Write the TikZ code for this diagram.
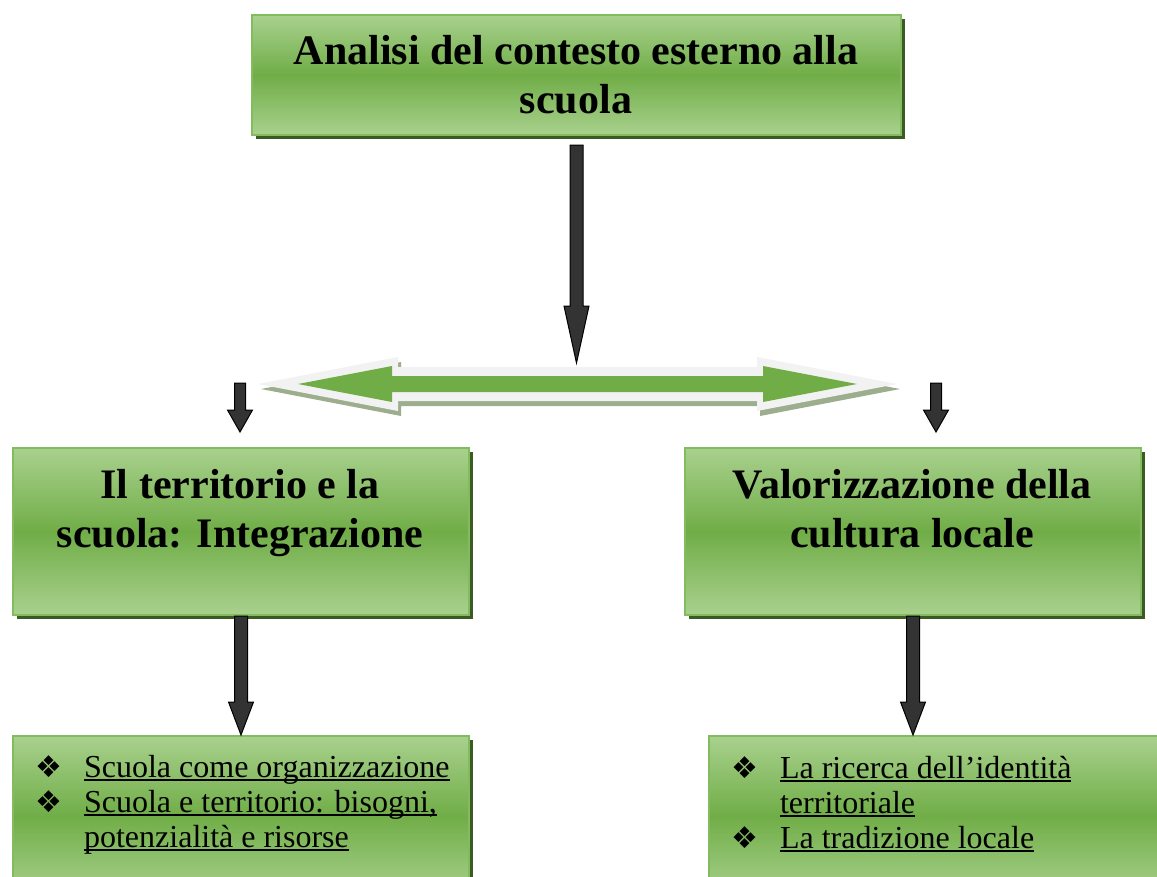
\documentclass[tikz,border=0pt]{standalone}
\usepackage{fontspec}
\setmainfont{Liberation Serif}
\newfontfamily\dejavu{DejaVu Sans}
\usetikzlibrary{calc,shadows}
\definecolor{lightg}{HTML}{A9D18E}
\definecolor{midg}{HTML}{70AD47}
\definecolor{edgeg}{HTML}{82BC5E}
\definecolor{shadg}{HTML}{3B5A24}
\definecolor{arrowdark}{HTML}{333333}
\definecolor{arrowpale}{HTML}{F2F2F2}
\definecolor{arrowshad}{HTML}{9DAE8E}
\newcommand\myul[1]{\setbox0\hbox{#1}\rlap{\rule[-4pt]{\wd0}{1.6pt}}\box0}
\newcommand\bul{{\dejavu\fontsize{30}{30}\selectfont ❖}}
\newcommand\blkarrow[5]{\path[blkarrowstyle] let \p1=(#1), \p2=(#2) in
  (\x1-#3,\y1) -- (\x1-#3,\y2+#5) -- (\x1-#4,\y2+#5) -- (\x1,\y2) --
  (\x1+#4,\y2+#5) -- (\x1+#3,\y2+#5) -- (\x1+#3,\y1) -- cycle;}
\tikzset{
  greenbox/.style={draw=edgeg, line width=2pt, top color=lightg, bottom color=lightg,
    middle color=midg, inner sep=0pt, anchor=north west,
    drop shadow={shadow xshift=4pt, shadow yshift=-4pt, fill=shadg, opacity=1}},
  headtext/.style={font=\fontsize{42}{49}\selectfont\bfseries, align=center, inner sep=0pt, anchor=base},
  listtext/.style={font=\fontsize{32}{35}\selectfont, inner sep=0pt, anchor=base west},
  blkarrowstyle/.style={draw=black, line width=1pt, fill=arrowdark, line join=miter},
}
\begin{document}
\begin{tikzpicture}[x=1pt,y=-1pt]
\clip (0,0) rectangle (1157,876);
\fill[white] (0,0) rectangle (1157,876);

% boxes
\node[greenbox, minimum width=649pt, minimum height=120pt] (top) at (251,14) {};
\node[greenbox, minimum width=456pt, minimum height=167pt] (mid1) at (12,447) {};
\node[greenbox, minimum width=456pt, minimum height=167pt] (mid2) at (684,447) {};
\node[greenbox, minimum width=456pt, minimum height=160pt] (bot1) at (12,735) {};
\node[greenbox, minimum width=470pt, minimum height=160pt] (bot2) at (708,735) {};

% double arrow
\fill[arrowshad] (261,389) -- (401,362) -- (401,372) -- (760,372) -- (760,362) -- (900,389)
  -- (760,416) -- (760,406) -- (401,406) -- (401,416) -- cycle;
\fill[arrowpale] (258,384) -- (398,357) -- (398,367) -- (757,367) -- (757,357) -- (897,384)
  -- (757,411) -- (757,401) -- (398,401) -- (398,411) -- cycle;
\fill[midg] (298,384) -- (392,366) -- (392,376) -- (763,376) -- (763,366) -- (857,384)
  -- (763,402) -- (763,392) -- (392,392) -- (392,402) -- cycle;

% coordinates for free ends
\coordinate (dtop) at (576,363);
\coordinate (dl) at (240,383);
\coordinate (dr) at (936,383);
\coordinate (mid1in) at (240,432);
\coordinate (mid2in) at (936,432);

% arrows
\blkarrow{$(top.south)+(0,9)$}{dtop}{6.5pt}{12.5pt}{57pt}
\blkarrow{dl}{mid1in}{5.5pt}{12.5pt}{22pt}
\blkarrow{dr}{mid2in}{5.5pt}{12.5pt}{22pt}
\blkarrow{mid1.south}{mid1.south |- bot1.north}{6.5pt}{12.5pt}{33pt}
\blkarrow{mid2.south}{mid2.south |- bot2.north}{6.5pt}{12.5pt}{33pt}

% texts (base anchor = baseline of the last line)
\node[headtext] (t0) at (576,113) {Analisi del contesto esterno alla\\scuola};
\node[headtext] (t1) at (240,547) {Il territorio e la\\scuola: Integrazione};
\node[headtext] (t2) at (912,547) {Valorizzazione della\\cultura locale};

\node[listtext] (l1) at (35,777) {\begin{tabular}[t]{@{}l@{\hspace{22pt}}l@{}}
  \bul & \myul{Scuola come organizzazione}\\
  \bul & \myul{Scuola e territorio: bisogni,}\\
       & \myul{potenzialità e risorse}\end{tabular}};
\node[listtext] (l2) at (731,778) {\begin{tabular}[t]{@{}l@{\hspace{22pt}}l@{}}
  \bul & \myul{La ricerca dell’identità}\\
       & \myul{territoriale}\\
  \bul & \myul{La tradizione locale}\end{tabular}};
\end{tikzpicture}
\end{document}
